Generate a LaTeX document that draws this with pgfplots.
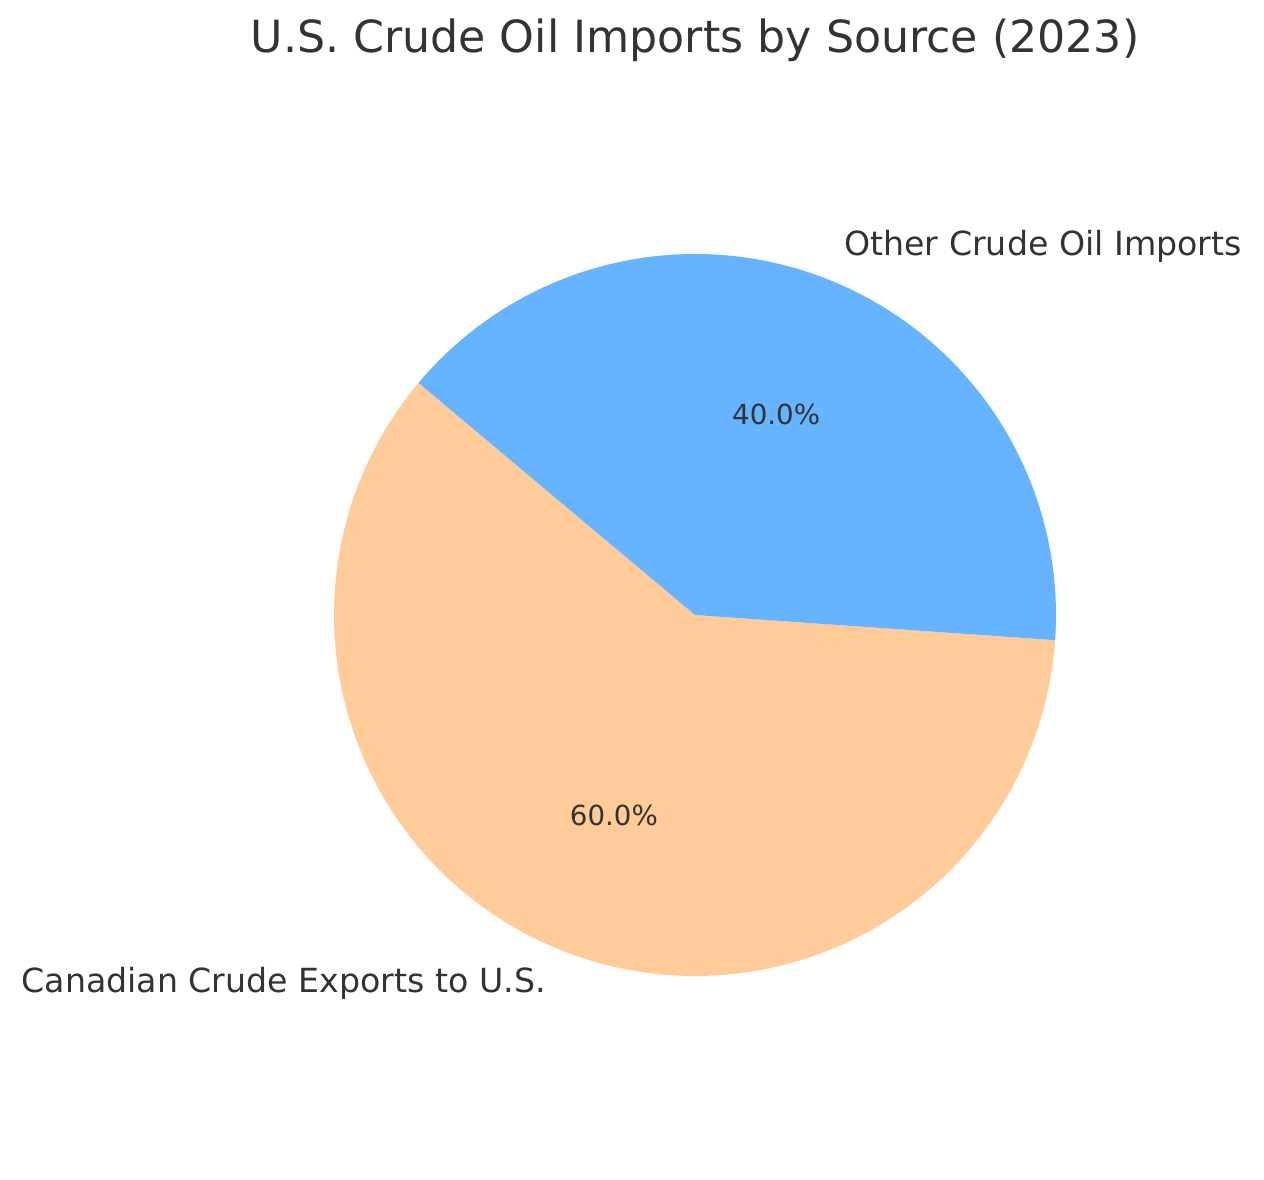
\documentclass[border=0pt]{standalone}
\usepackage{pgfplots}
\usepackage{pgfplotstable}
\pgfplotsset{compat=1.18}
\usepackage{fontspec}
\setmainfont{DejaVu Sans}
\definecolor{sliceA}{HTML}{FFCC99}
\definecolor{sliceB}{HTML}{66B3FF}
\definecolor{txt}{HTML}{333333}

\pgfplotstableread{
label value
Canadian 60
Other 40
}\piedata

\begin{document}
\begin{tikzpicture}
\pgfplotstablegetelem{0}{value}\of\piedata \let\valA\pgfplotsretval
\pgfplotstablegetelem{1}{value}\of\piedata \let\valB\pgfplotsretval
\pgfmathsetmacro\tot{\valA+\valB}
\pgfmathsetmacro\sA{140}
\pgfmathsetmacro\eA{\sA+\valA/\tot*360}
\pgfmathsetmacro\eB{\eA+\valB/\tot*360}
\pgfmathsetmacro\mA{(\sA+\eA)/2}
\pgfmathsetmacro\mB{(\eA+\eB)/2}
\pgfmathsetmacro\pA{\valA/\tot*100}
\pgfmathsetmacro\pB{\valB/\tot*100}
\def\cx{695}\def\cy{565}\def\R{361}
\begin{axis}[
  width=6.32in, height=5.9in, scale only axis,
  xmin=0, xmax=1264, ymin=0, ymax=1180,
  hide axis, clip=false,
  /pgf/number format/assume math mode=true,
]
\path (rel axis cs:0,0) rectangle (rel axis cs:1,1);
\addplot[fill=sliceA, draw=none, domain=\sA:\eA, samples=200, variable=\t]
  ({\cx+\R*cos(\t)},{\cy+\R*sin(\t)}) -- (axis cs:\cx,\cy) -- cycle;
\addplot[fill=sliceB, draw=none, domain=\eA:\eB, samples=200, variable=\t]
  ({\cx+\R*cos(\t)},{\cy+\R*sin(\t)}) -- (axis cs:\cx,\cy) -- cycle;
\pgfmathsetmacro\lAx{\cx+1.1*\R*cos(\mA)}
\pgfmathsetmacro\lAy{\cy+1.1*\R*sin(\mA)}
\pgfmathsetmacro\lBx{\cx+1.1*\R*cos(\mB)}
\pgfmathsetmacro\lBy{\cy+1.1*\R*sin(\mB)}
\pgfmathsetmacro\qAx{\cx+0.6*\R*cos(\mA)}
\pgfmathsetmacro\qAy{\cy+0.6*\R*sin(\mA)}
\pgfmathsetmacro\qBx{\cx+0.6*\R*cos(\mB)}
\pgfmathsetmacro\qBy{\cy+0.6*\R*sin(\mB)}
\node[anchor=east, text=txt, font=\fontsize{12}{14}\selectfont, inner sep=0pt] at (axis cs:\lAx,\lAy) {Canadian Crude Exports to U.S.};
\node[anchor=west, text=txt, font=\fontsize{12}{14}\selectfont, inner sep=0pt] at (axis cs:\lBx,\lBy) {Other Crude Oil Imports};
\node[text=txt, font=\fontsize{10}{12}\selectfont, inner sep=0pt] at (axis cs:\qAx,\qAy) {\pgfmathprintnumber[fixed,fixed zerofill,precision=1,assume math mode=true]{\pA}\%};
\node[text=txt, font=\fontsize{10}{12}\selectfont, inner sep=0pt] at (axis cs:\qBx,\qBy) {\pgfmathprintnumber[fixed,fixed zerofill,precision=1,assume math mode=true]{\pB}\%};
\node[text=txt, font=\fontsize{16}{19}\selectfont, inner sep=0pt] at (axis cs:695,1140) {U.S. Crude Oil Imports by Source (2023)};
\end{axis}
\end{tikzpicture}
\end{document}
